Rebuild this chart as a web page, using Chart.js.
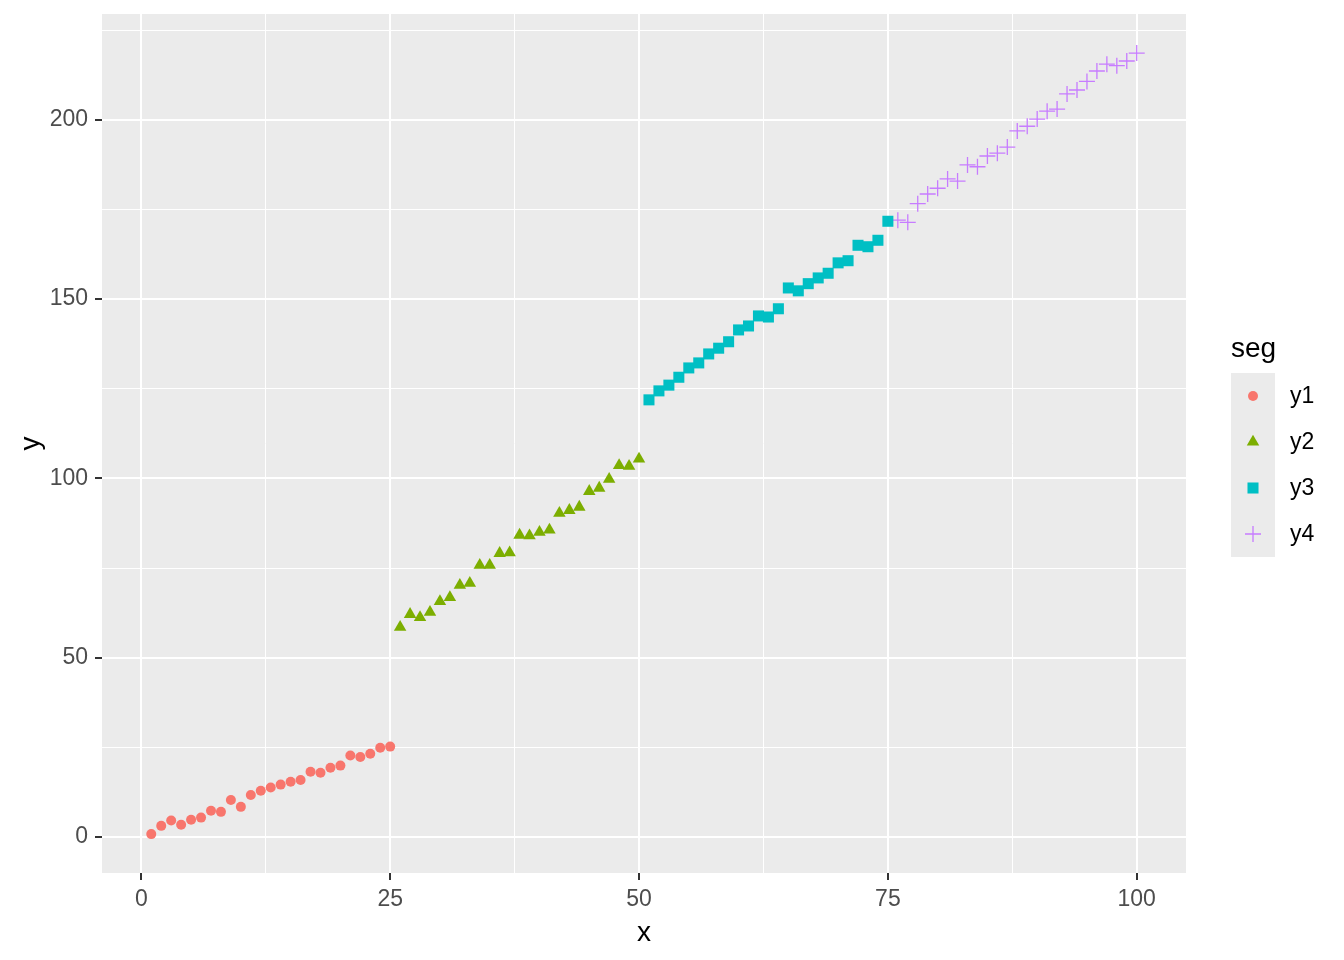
<!DOCTYPE html>
<html>
<head>
<meta charset="utf-8">
<script src="https://cdn.jsdelivr.net/npm/chart.js@4/dist/chart.umd.min.js"></script>
<style>
  body { margin: 0; background: #fff; }
  #wrap { width: 1344px; height: 960px; }
</style>
</head>
<body>
<div id="wrap"><canvas id="chart" width="1344" height="960"></canvas></div>
<script>
// segment x positions
const x1 = [1, 2, 3, 4, 5, 6, 7, 8, 9, 10, 11, 12, 13, 14, 15, 16, 17, 18, 19, 20, 21, 22, 23, 24, 25];
const x2 = [26, 27, 28, 29, 30, 31, 32, 33, 34, 35, 36, 37, 38, 39, 40, 41, 42, 43, 44, 45, 46, 47, 48, 49, 50];
const x3 = [51, 52, 53, 54, 55, 56, 57, 58, 59, 60, 61, 62, 63, 64, 65, 66, 67, 68, 69, 70, 71, 72, 73, 74, 75];
const x4 = [76, 77, 78, 79, 80, 81, 82, 83, 84, 85, 86, 87, 88, 89, 90, 91, 92, 93, 94, 95, 96, 97, 98, 99, 100];

// values
const y1 = [0.8, 3.1, 4.6, 3.4, 4.8, 5.4, 7.3, 7.0, 10.3, 8.4, 11.7, 12.9, 13.8, 14.6, 15.4, 15.9,
  18.2, 17.9, 19.3, 19.9, 22.7, 22.3, 23.2, 24.9, 25.2];
const y2 = [58.5, 62.1, 61.2, 62.7, 65.7, 66.8, 70.2, 70.8, 75.8, 75.8, 79.1, 79.3, 84.2, 84.0, 85.0,
  85.6, 90.3, 91.1, 92.0, 96.4, 97.3, 99.8, 103.6, 103.4, 105.4];
const y3 = [121.9, 124.4, 126.0, 128.2, 130.8, 132.2, 134.7, 136.3, 138.1, 141.4, 142.5, 145.3, 145.0,
  147.3, 153.1, 152.3, 154.3, 155.9, 157.2, 160.1, 160.7, 165.0, 164.6, 166.4, 171.7];
const y4 = [172.0, 171.4, 176.6, 179.3, 180.9, 183.5, 182.9, 187.4, 186.9, 189.9, 190.7, 192.4, 196.9,
  198.2, 200.2, 202.4, 203.0, 207.2, 208.3, 210.7, 213.6, 215.5, 215.1, 216.4, 218.6];

const segLabels = ["y1", "y2", "y3", "y4"];
const segColors = ["#F8766D", "#7CAE00", "#00BFC4", "#C77CFF"];

const xTicks = [0, 12.5, 25, 37.5, 50, 62.5, 75, 87.5, 100];
const yTicks = [0, 25, 50, 75, 100, 125, 150, 175, 200, 225];
const xMajor = [0, 25, 50, 75, 100];
const yMajor = [0, 50, 100, 150, 200];

const FONT = "'Liberation Sans', Arial, sans-serif";

// point style per segment (circle, triangle, square, plus)
const shapes = [
  { pointStyle: "circle", radius: 5, borderWidth: 0 },
  { pointStyle: "triangle", radius: 7.2, borderWidth: 0 },
  { pointStyle: "rect", radius: 7.8, borderWidth: 0 },
  { pointStyle: "cross", radius: 8, borderWidth: 1.3 }
];

function toPoints(xs, ys) {
  return xs.map((x, i) => ({ x: x, y: ys[i] }));
}

const series = [toPoints(x1, y1), toPoints(x2, y2), toPoints(x3, y3), toPoints(x4, y4)];

const datasets = series.map((data, i) => ({
  label: segLabels[i],
  data: data,
  pointStyle: shapes[i].pointStyle,
  pointRadius: shapes[i].radius,
  pointBackgroundColor: segColors[i],
  pointBorderColor: segColors[i],
  pointBorderWidth: shapes[i].borderWidth,
  showLine: false
}));

// grey panel behind the grid
const panelBg = {
  id: "panelBg",
  beforeDraw(chart) {
    const a = chart.chartArea;
    const ctx = chart.ctx;
    ctx.save();
    ctx.fillStyle = "#EBEBEB";
    ctx.fillRect(a.left, a.top, a.right - a.left, a.bottom - a.top);
    ctx.restore();
  }
};

// ggplot-like legend on the right
const segLegend = {
  id: "segLegend",
  afterDraw(chart) {
    const ctx = chart.ctx;
    const left = 1231, keyW = 44, keyH = 46, top = 373;
    ctx.save();
    ctx.fillStyle = "#000";
    ctx.font = "28px " + FONT;
    ctx.textBaseline = "alphabetic";
    ctx.fillText("seg", left, 357);
    ctx.fillStyle = "#EBEBEB";
    ctx.fillRect(left, top, keyW, keyH * segLabels.length);
    segLabels.forEach((lab, i) => {
      const cy = top + keyH * i + keyH / 2;
      ctx.fillStyle = segColors[i];
      ctx.strokeStyle = segColors[i];
      ctx.lineWidth = shapes[i].borderWidth;
      Chart.helpers.drawPoint(ctx, {
        pointStyle: shapes[i].pointStyle,
        radius: shapes[i].radius,
        rotation: 0,
        borderWidth: shapes[i].borderWidth
      }, left + keyW / 2, cy);
      ctx.fillStyle = "#000";
      ctx.font = "23px " + FONT;
      ctx.textBaseline = "middle";
      ctx.fillText(lab, 1290, cy + 1);
    });
    ctx.restore();
  }
};

function gridFor(major) {
  return {
    color: "#FFFFFF",
    lineWidth: c => (c.tick && major.includes(c.tick.value) ? 2 : 1),
    drawTicks: true,
    tickLength: 7,
    tickColor: c => (c.tick && major.includes(c.tick.value) ? "#333333" : "rgba(0,0,0,0)"),
    tickWidth: 2
  };
}

new Chart(document.getElementById("chart"), {
  type: "scatter",
  data: { datasets: datasets },
  options: {
    responsive: false,
    animation: false,
    events: [],
    layout: { padding: { left: 0, top: 14, right: 158, bottom: 0 } },
    plugins: {
      legend: { display: false },
      tooltip: { enabled: false }
    },
    scales: {
      x: {
        type: "linear",
        min: -3.95,
        max: 104.95,
        afterBuildTicks: s => { s.ticks = xTicks.map(v => ({ value: v })); },
        afterFit: s => { s.height = 87; s.paddingLeft = 0; s.paddingRight = 0; },
        border: { display: false },
        grid: gridFor(xMajor),
        ticks: {
          autoSkip: false,
          maxRotation: 0,
          padding: 6,
          color: "#4D4D4D",
          font: { family: FONT, size: 23 },
          callback: v => (xMajor.includes(v) ? String(v) : "")
        },
        title: {
          display: true,
          text: "x",
          color: "#000",
          font: { family: FONT, size: 28 },
          padding: { top: 0, bottom: 10 }
        }
      },
      y: {
        type: "linear",
        min: -10.05,
        max: 229.5,
        afterBuildTicks: s => { s.ticks = yTicks.map(v => ({ value: v })); },
        afterFit: s => { s.width = 102; s.paddingTop = 0; s.paddingBottom = 0; },
        border: { display: false },
        grid: gridFor(yMajor),
        ticks: {
          autoSkip: false,
          padding: 7,
          color: "#4D4D4D",
          font: { family: FONT, size: 23 },
          callback: v => (yMajor.includes(v) ? String(v) : "")
        },
        title: {
          display: true,
          text: "y",
          color: "#000",
          font: { family: FONT, size: 28 },
          padding: { top: 14, bottom: 0 }
        }
      }
    }
  },
  plugins: [panelBg, segLegend]
});
</script>
</body>
</html>
